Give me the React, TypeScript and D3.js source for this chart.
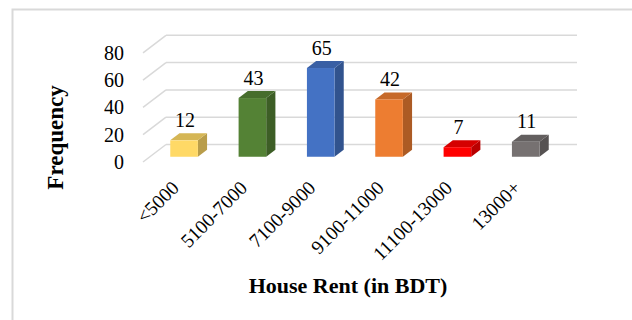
import React, { useRef, useEffect } from 'react';
import * as d3 from 'd3';

const categories = ['<5000', '5100-7000', '7100-9000', '9100-11000', '11100-13000', '13000+'];
const frequencies = [12, 43, 65, 42, 7, 11];
const frontColors = ['#FFD966', '#548235', '#4472C4', '#ED7D31', '#FF0000', '#767171'];
const yTicks = [0, 20, 40, 60, 80];

const FONT = "'Liberation Serif', 'Times New Roman', serif";

const App = () => {
  const svgRef = useRef<SVGSVGElement>(null);
  const width = 632;
  const height = 320;

  useEffect(() => {
    const svg = d3.select(svgRef.current);
    svg.selectAll('*').remove();

    // floor front-left corner and the depth vector of the 3D box
    const front = { x: 143, y: 162 };
    const depth = { x: 23, y: -17.5 };
    const barDepthStart = 0.3;
    const barDepth = 0.4;

    const xScale = d3.scaleBand().domain(categories).range([front.x, front.x + 410]).padding(0);
    const yScale = d3.scaleLinear().domain([0, 80]).range([0, -109.2]);

    // outer chart border
    svg
      .append('rect')
      .attr('x', 12.5)
      .attr('y', 9.5)
      .attr('width', 700)
      .attr('height', 400)
      .attr('fill', '#fff')
      .attr('stroke', '#d9d9d9')
      .attr('stroke-width', 2);

    // back wall gridlines and floor diagonals
    const grid = svg.append('g');
    yTicks.forEach(t => {
      const fy = front.y + yScale(t);
      const by = fy + depth.y;
      grid
        .append('line')
        .attr('x1', front.x)
        .attr('y1', fy)
        .attr('x2', front.x + depth.x)
        .attr('y2', by)
        .attr('stroke', '#d9d9d9')
        .attr('stroke-width', 1.5);
      grid
        .append('line')
        .attr('x1', front.x + depth.x)
        .attr('y1', by)
        .attr('x2', front.x + depth.x + 411)
        .attr('y2', by)
        .attr('stroke', '#d9d9d9')
        .attr('stroke-width', 1.5);
      grid
        .append('text')
        .attr('x', 124)
        .attr('y', fy)
        .attr('dy', '0.35em')
        .attr('text-anchor', 'end')
        .style('font-family', FONT)
        .attr('font-size', 20)
        .attr('fill', '#000')
        .text(t);
    });

    const bw = xScale.bandwidth() * 0.404;
    const ox = depth.x * barDepth;
    const oy = depth.y * barDepth;
    const base = front.y + depth.y * barDepthStart;
    const shift = depth.x * barDepthStart;

    const bars = svg
      .append('g')
      .selectAll('g')
      .data(frequencies)
      .enter()
      .append('g');

    bars.each(function (d, i) {
      const g = d3.select(this);
      const cx = (xScale(categories[i]) as number) + xScale.bandwidth() / 2 + shift;
      const x0 = cx - bw / 2;
      const x1 = cx + bw / 2;
      const top = base + yScale(d);
      const c = d3.color(frontColors[i]) as d3.RGBColor;
      g.append('path')
        .attr('d', `M${x1},${top}L${x1 + ox},${top + oy}L${x1 + ox},${base + oy}L${x1},${base}Z`)
        .attr('fill', c.darker(0.9).toString());
      g.append('path')
        .attr('d', `M${x0},${top}L${x0 + ox},${top + oy}L${x1 + ox},${top + oy}L${x1},${top}Z`)
        .attr('fill', c.darker(0.5).toString());
      g.append('rect')
        .attr('x', x0)
        .attr('y', top)
        .attr('width', bw)
        .attr('height', base - top)
        .attr('fill', frontColors[i]);
      g.append('text')
        .attr('x', cx + 1)
        .attr('y', top - 13.5)
        .attr('text-anchor', 'middle')
        .style('font-family', FONT)
        .attr('font-size', 20)
        .attr('fill', '#000')
        .text(d);
      g.append('text')
        .attr('transform', `translate(${cx - 4},189) rotate(-45)`)
        .attr('text-anchor', 'end')
        .style('font-family', FONT)
        .attr('font-size', 19.5)
        .attr('fill', '#000')
        .text(categories[i]);
    });

    svg
      .append('text')
      .attr('x', 348)
      .attr('y', 293)
      .attr('text-anchor', 'middle')
      .style('font-family', FONT)
      .attr('font-weight', 'bold')
      .attr('font-size', 22)
      .attr('fill', '#000')
      .text('House Rent (in BDT)');

    svg
      .append('text')
      .attr('transform', 'translate(62.5,137.5) rotate(-90)')
      .attr('text-anchor', 'middle')
      .style('font-family', FONT)
      .attr('font-weight', 'bold')
      .attr('font-size', 23)
      .attr('fill', '#000')
      .text('Frequency');
  }, []);

  return (
    <svg
      ref={svgRef}
      width={width}
      height={height}
      style={{ position: 'absolute', left: 0, top: 0, background: '#fff' }}
    ></svg>
  );
};

export default App;
